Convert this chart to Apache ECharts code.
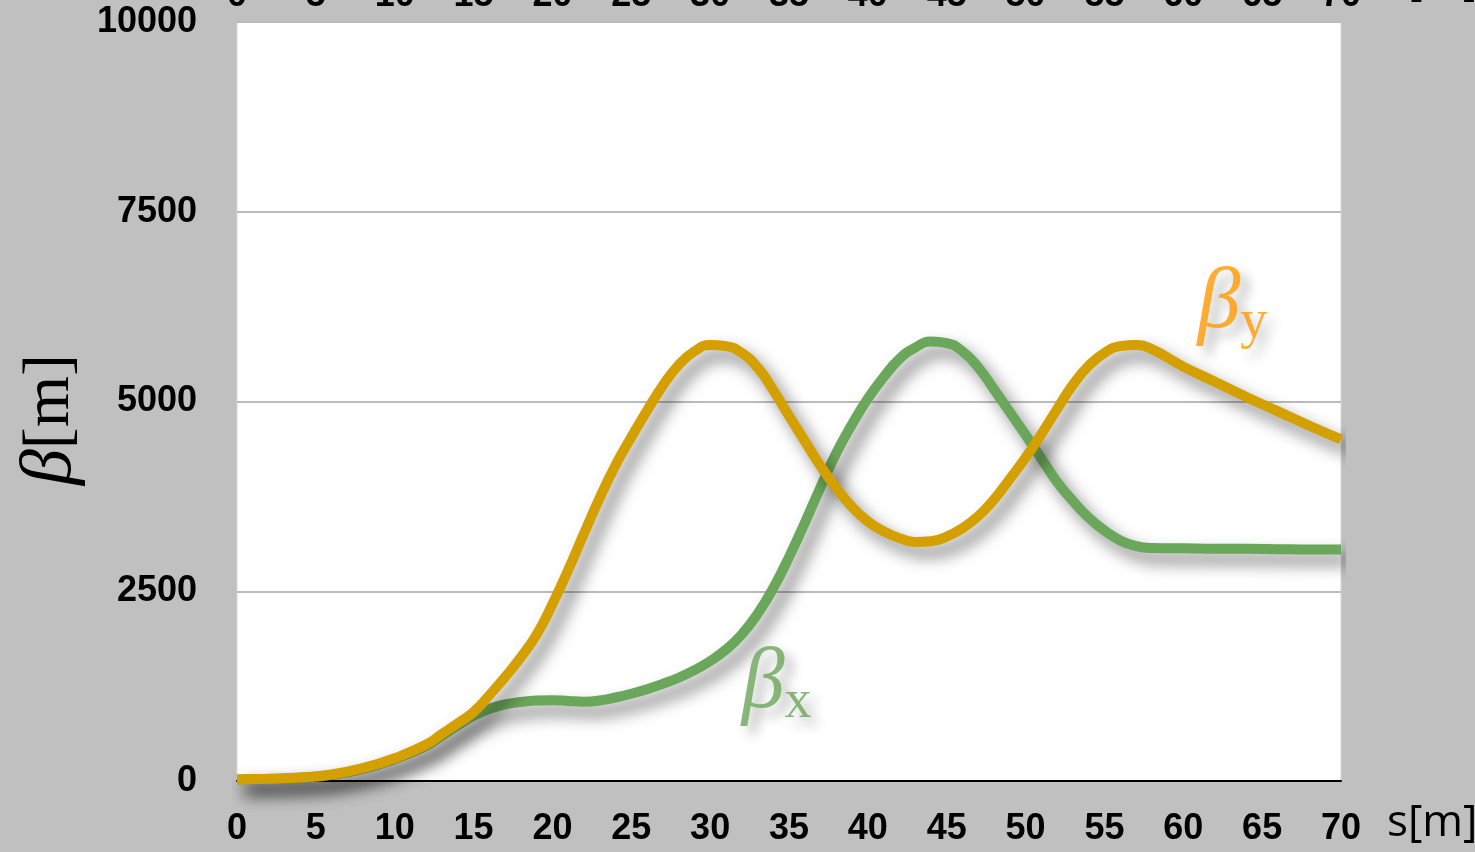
<!DOCTYPE html>
<html>
<head>
<meta charset="utf-8">
<title>Beta functions along s</title>
<script src="https://cdn.jsdelivr.net/npm/echarts@6/dist/echarts.min.js"></script>
<style>
  html, body { margin: 0; padding: 0; background: #c0c0c0; }
  #chart { width: 1475px; height: 852px; }
</style>
</head>
<body>
<div id="chart"></div>
<script>
// Longitudinal position s [m]
const sPos = [0, 2, 4, 6, 8, 10, 12, 13, 14, 15, 16, 17, 18, 19, 20, 21, 22, 23, 24, 25,
  26, 27, 28, 29, 30, 31, 32, 33, 34, 35, 36, 37, 38, 39, 40, 41, 42, 43, 44, 45,
  46, 47, 48, 49, 50, 51, 52, 53, 54, 55, 56, 57, 58, 60, 62, 64, 66, 68, 70];

// Horizontal beta function beta_x [m]
const betaX = [20, 28, 42, 80, 160, 290, 465, 600, 735, 860, 950, 1010, 1040, 1060, 1065, 1055, 1045, 1060, 1100, 1150,
  1210, 1280, 1360, 1460, 1580, 1730, 1930, 2200, 2540, 2950, 3400, 3870, 4320, 4700, 5040, 5320, 5560, 5710, 5790, 5770,
  5660, 5450, 5160, 4860, 4560, 4250, 3940, 3690, 3470, 3300, 3170, 3095, 3070, 3065, 3060, 3060, 3055, 3050, 3050];

// Vertical beta function beta_y [m]
const betaY = [20, 30, 45, 85, 170, 300, 480, 620, 760, 910, 1130, 1370, 1630, 1930, 2330, 2780, 3260, 3730, 4160, 4530,
  4880, 5210, 5480, 5660, 5745, 5730, 5640, 5450, 5150, 4810, 4480, 4150, 3860, 3610, 3420, 3290, 3200, 3150, 3160, 3220,
  3330, 3490, 3710, 3980, 4260, 4570, 4900, 5220, 5470, 5640, 5730, 5745, 5690, 5460, 5260, 5060, 4870, 4680, 4500];

// Axis ranges
const sMin = 0, sMax = 70, sStep = 5;
const betaMin = 0, betaMax = 10000, betaStep = 2500;

// Curve label anchors [s, beta]
const labelX = [32.0, 1270];
const labelY = [60.9, 6280];

const GREEN = '#6aa75a';
const ORANGE = '#d4a000';
const TICK_FONT = { fontFamily: 'Liberation Sans, Arial, sans-serif', fontWeight: 'bold', fontSize: 36, color: '#000' };
const NAME_FONT = { fontFamily: 'Open Sans, Noto Sans, sans-serif', fontSize: 44, color: '#000' };

const lineShadow = {
  shadowColor: 'rgba(0,0,0,0.5)',
  shadowBlur: 16,
  shadowOffsetX: 8,
  shadowOffsetY: 10
};

function pairs(values) {
  return sPos.map((s, i) => [s, values[i]]);
}

function greekLabel(sub, color) {
  return {
    show: true,
    position: 'right',
    distance: 0,
    formatter: '{b|β}{s|' + sub + '}',
    textShadowColor: 'rgba(0,0,0,0.35)',
    textShadowBlur: 12,
    textShadowOffsetX: 8,
    textShadowOffsetY: 8,
    rich: {
      b: { fontFamily: 'Liberation Serif, DejaVu Serif, serif', fontStyle: 'italic', fontSize: 86, color: color },
      s: { fontFamily: 'Liberation Serif, DejaVu Serif, serif', fontSize: 54, color: color, padding: [36, 0, 0, 0] }
    }
  };
}

const chart = echarts.init(document.getElementById('chart'), null, { renderer: 'canvas' });

chart.setOption({
  backgroundColor: '#c0c0c0',
  animation: false,
  grid: {
    left: 237, right: 134, top: 22, bottom: 71,
    containLabel: false,
    outerBoundsMode: 'none',
    show: true, backgroundColor: '#ffffff', borderColor: '#d8d8d8', borderWidth: 1
  },
  xAxis: [{
    type: 'value', position: 'bottom',
    min: sMin, max: sMax, interval: sStep,
    axisLine: { show: true, onZero: false, lineStyle: { color: '#000', width: 2 } },
    axisTick: { show: false },
    splitLine: { show: false },
    axisLabel: Object.assign({ margin: 30 }, TICK_FONT),
    name: 's[m]',
    nameLocation: 'end',
    nameGap: 46,
    nameMoveOverlap: false,
    nameTextStyle: Object.assign({ verticalAlign: 'top', padding: [20, 0, 0, 0] }, NAME_FONT)
  }, {
    type: 'value', position: 'top',
    min: sMin, max: sMax, interval: sStep,
    axisLine: { show: false, onZero: false },
    axisTick: { show: false },
    splitLine: { show: false },
    axisLabel: Object.assign({ margin: 8 }, TICK_FONT),
    name: 's[m]',
    nameLocation: 'end',
    nameGap: 46,
    nameMoveOverlap: false,
    nameTextStyle: Object.assign({ verticalAlign: 'bottom', padding: [0, 0, 18, 0] }, NAME_FONT)
  }],
  yAxis: {
    type: 'value',
    min: betaMin, max: betaMax, interval: betaStep,
    axisLine: { show: false },
    axisTick: { show: false },
    splitLine: { show: true, lineStyle: { color: '#bbbbbb', width: 2 } },
    axisLabel: Object.assign({ margin: 40, formatter: v => String(v) }, TICK_FONT),
    name: '{b|β}{m|[m]}',
    nameLocation: 'middle',
    nameRotate: 90,
    nameGap: 150,
    nameMoveOverlap: false,
    nameTextStyle: {
      rich: {
        b: { fontFamily: 'Liberation Serif, DejaVu Serif, serif', fontStyle: 'italic', fontSize: 72, color: '#000' },
        m: { fontFamily: 'Liberation Serif, DejaVu Serif, serif', fontSize: 66, color: '#000', padding: [0, 36, 0, 0] }
      }
    }
  },
  series: [{
    name: 'βx',
    type: 'line',
    data: pairs(betaX),
    smooth: true,
    showSymbol: false,
    clip: false,
    lineStyle: Object.assign({ color: GREEN, width: 10 }, lineShadow),
    z: 3
  }, {
    name: 'βy',
    type: 'line',
    data: pairs(betaY),
    smooth: true,
    showSymbol: false,
    clip: false,
    lineStyle: Object.assign({ color: ORANGE, width: 10 }, lineShadow),
    z: 4
  }, {
    type: 'scatter',
    symbolSize: 0,
    silent: true,
    data: [
      { value: labelX, label: greekLabel('x', GREEN) },
      { value: labelY, label: greekLabel('y', '#ff9a00') }
    ],
    z: 5
  }]
});
</script>
</body>
</html>
